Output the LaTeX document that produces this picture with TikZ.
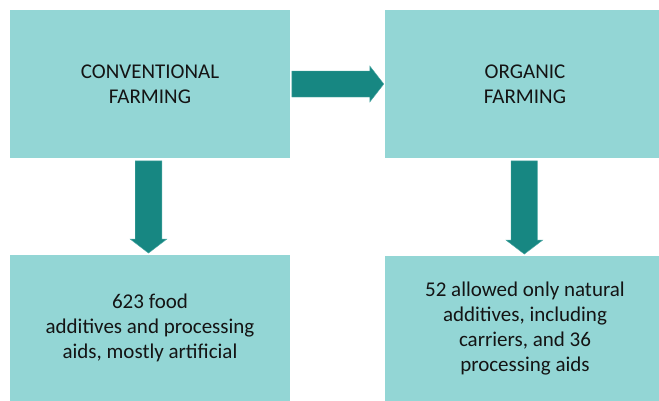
\documentclass[tikz,border=0pt]{standalone}
\usepackage{fontspec}
\setmainfont{Carlito}
\usetikzlibrary{calc}
\definecolor{boxfill}{HTML}{93D6D5}
\definecolor{arrowfill}{HTML}{178782}
\definecolor{arrowedge}{HTML}{4FA9A5}
\tikzset{
  box/.style={fill=boxfill, draw=none, minimum width=280pt, align=center,
    text=black!92, font=\fontsize{21}{25}\selectfont, inner sep=0pt},
  topbox/.style={box, minimum height=148pt},
  botbox/.style={box, minimum height=146pt},
  fatarrow/.style={fill=arrowfill, draw=arrowedge, line width=0.4pt, line join=miter}
}
\begin{document}
\begin{tikzpicture}[x=1pt,y=-1pt]
\clip (0,0) rectangle (659,400);
\fill[white] (0,0) rectangle (659,400);
\node[topbox] (cf) at (150,84) {CONVENTIONAL\\FARMING};
\node[topbox] (of) at (525,84) {ORGANIC\\FARMING};
\node[botbox] (lf) at (150,328) {623 food\\additives and processing\\aids, mostly artificial};
\node[botbox] (rf) at (525,329) {52 allowed only natural\\additives, including\\carriers, and 36\\ processing aids};
% right arrow
\draw[fatarrow] ($(cf.east)+(1.7,-13)$) -- ($(of.west)+(-15,-13)$) -- ($(of.west)+(-15,-18)$)
  -- ($(of.west)+(-1,0)$) -- ($(of.west)+(-15,18)$) -- ($(of.west)+(-15,13)$)
  -- ($(cf.east)+(1.7,13)$) -- cycle;
% left down arrow
\draw[fatarrow] ($(cf.south)+(-14.8,2.7)$) -- ($(cf.south)+(11.8,2.7)$) -- ($(lf.north)+(11.8,-15.7)$)
  -- ($(lf.north)+(16.8,-15.7)$) -- ($(lf.north)+(-1.5,-1.7)$) -- ($(lf.north)+(-19.8,-15.7)$)
  -- ($(lf.north)+(-14.8,-15.7)$) -- cycle;
% right down arrow
\draw[fatarrow] ($(of.south)+(-14,2.7)$) -- ($(of.south)+(12.4,2.7)$) -- ($(rf.north)+(12.4,-15.7)$)
  -- ($(rf.north)+(17.7,-15.7)$) -- ($(rf.north)+(-0.7,-1.7)$) -- ($(rf.north)+(-19,-15.7)$)
  -- ($(rf.north)+(-14,-15.7)$) -- cycle;
\end{tikzpicture}
\end{document}
